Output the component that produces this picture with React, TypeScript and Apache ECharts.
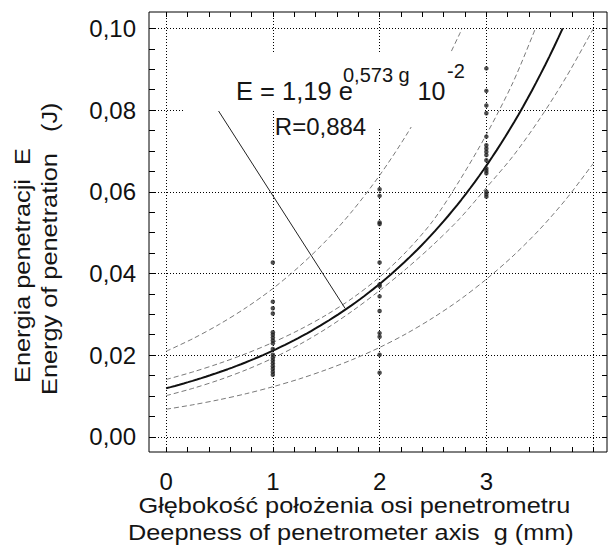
import React, { useEffect, useRef } from "react";
import * as echarts from "echarts";

const WIDTH = 608;
const HEIGHT = 549;
const FONT = '"Liberation Sans", Arial, Helvetica, sans-serif';

// Measured penetration energy E (J) at each penetrometer depth g (mm)
const DEPTHS = [1, 2, 3];
const ENERGY_AT_1MM = [0.0427, 0.0331, 0.0315, 0.0302, 0.0256, 0.025, 0.0243, 0.0236, 0.0229, 0.0215, 0.0201, 0.0194, 0.0187, 0.018, 0.0173, 0.0166, 0.0159, 0.0152];
const ENERGY_AT_2MM = [0.0606, 0.059, 0.0525, 0.0521, 0.0427, 0.0373, 0.0369, 0.0344, 0.0308, 0.0254, 0.0245, 0.0201, 0.0157];
const ENERGY_AT_3MM = [0.0902, 0.0847, 0.0811, 0.0792, 0.0735, 0.0714, 0.0706, 0.0698, 0.069, 0.0677, 0.0657, 0.0651, 0.0645, 0.06, 0.0594, 0.0588];

// Regression E = 1,19 e^(0,573 g) 10^-2, R = 0,884
const FIT_COEF = 1.19;
const FIT_RATE = 0.573;
const FIT_SCALE = 1e-2;
const FIT_R = 0.884;

// Confidence band (inner pair) and prediction band (outer pair)
const INNER_UPPER_G = [0, 0.25, 0.5, 0.75, 1, 1.25, 1.5, 1.75, 2, 2.25, 2.5, 2.75, 3, 3.25, 3.46];
const INNER_UPPER_E = [0.01404, 0.01589, 0.018, 0.02039, 0.02311, 0.02623, 0.02983, 0.03404, 0.03912, 0.04534, 0.0529, 0.0628, 0.074, 0.0868, 0.1];
const INNER_LOWER_G = [0, 0.25, 0.5, 0.75, 1, 1.25, 1.5, 1.75, 2, 2.25, 2.5, 2.75, 3, 3.25, 3.5, 3.75, 4];
const INNER_LOWER_E = [0.01009, 0.01187, 0.01396, 0.01641, 0.01927, 0.02262, 0.02649, 0.03091, 0.03582, 0.04116, 0.04698, 0.05342, 0.061, 0.06873, 0.07786, 0.08818, 0.09984];
const OUTER_UPPER_G = [0, 0.25, 0.5, 0.75, 1, 1.25, 1.5, 1.75, 2, 2.25, 2.5, 2.75, 2.77];
const OUTER_UPPER_E = [0.02094, 0.02403, 0.02758, 0.03164, 0.0363, 0.04177, 0.04806, 0.05547, 0.06401, 0.07387, 0.08524, 0.09866, 0.0999];
const OUTER_LOWER_G = [0, 0.25, 0.5, 0.75, 1, 1.25, 1.5, 1.75, 2, 2.25, 2.5, 2.75, 3, 3.25, 3.5, 3.75, 4];
const OUTER_LOWER_E = [0.00676, 0.00785, 0.00911, 0.01057, 0.01227, 0.0142, 0.01644, 0.01897, 0.02189, 0.02526, 0.02915, 0.03354, 0.0386, 0.04429, 0.05081, 0.0583, 0.0669];

// Leader from the equation down to the fitted curve
const LEADER_G = [0.486, 1.676];
const LEADER_E = [0.08, 0.0315];

// Axis ranges and ticks
const X_MIN = -0.16;
const X_MAX = 4.13;
const Y_MIN = -0.0037;
const Y_MAX = 0.104;
const X_TICK_FIRST = 0;
const X_TICK_LAST = 4;
const X_TICK_STEP = 1;
const Y_TICK_FIRST = 0;
const Y_TICK_LAST = 0.1;
const Y_TICK_STEP = 0.02;

// Plot frame in pixels
const FRAME = { left: 149, top: 12, width: 458, height: 440 };

const pairs = (xs: number[], ys: number[]) => xs.map((x, i) => [x, ys[i]]);

function buildOption() {
  const px = (g: number) => FRAME.left + ((g - X_MIN) / (X_MAX - X_MIN)) * FRAME.width;
  const py = (v: number) => FRAME.top + ((Y_MAX - v) / (Y_MAX - Y_MIN)) * FRAME.height;

  const fitA = FIT_COEF * FIT_SCALE;
  const fitEnd = Math.log(Y_TICK_LAST / fitA) / FIT_RATE;
  const fitData: number[][] = [];
  for (let i = 0; i <= 90; i++) {
    const g = (fitEnd * i) / 90;
    fitData.push([g, fitA * Math.exp(FIT_RATE * g)]);
  }

  const samples: number[][] = [];
  [ENERGY_AT_1MM, ENERGY_AT_2MM, ENERGY_AT_3MM].forEach((col, k) =>
    col.forEach((e) => samples.push([DEPTHS[k], e]))
  );

  const tickStyle = { color: "#000", width: 1 };
  const label = { fontFamily: FONT, fontSize: 24, color: "#111" };
  const noLine = { show: false, onZero: false };

  const band = (name: string, xs: number[], ys: number[]) => ({
    name,
    type: "line",
    xAxisIndex: 0,
    yAxisIndex: 0,
    data: pairs(xs, ys),
    smooth: 0.3,
    symbol: "none",
    silent: true,
    lineStyle: { color: "#7a7a7a", width: 1, type: [5, 3] },
    z: 3,
  });

  const text = (
    t: string,
    x: number,
    y: number,
    size: number,
    extra: Record<string, unknown> = {}
  ) => ({
    type: "text",
    x,
    y,
    z: 60,
    silent: true,
    ...extra,
    style: {
      text: t,
      fill: "#151515",
      fontFamily: FONT,
      fontSize: size,
      textAlign: "left",
      align: "left",
      textVerticalAlign: "middle",
      verticalAlign: "middle",
    },
  });

  const titleSize = 22.6;
  const titleScale = 1.12;

  return {
    animation: false,
    backgroundColor: "#fff",
    grid: [
      {
        left: FRAME.left,
        top: FRAME.top,
        width: FRAME.width,
        height: FRAME.height,
        show: true,
        borderColor: "#000",
        borderWidth: 1,
        backgroundColor: "transparent",
        containLabel: false,
        outerBoundsMode: "none",
      },
      {
        left: FRAME.left,
        top: py(Y_TICK_LAST),
        width: FRAME.width,
        height: py(Y_TICK_FIRST) - py(Y_TICK_LAST),
        containLabel: false,
        outerBoundsMode: "none",
      },
      {
        left: px(X_TICK_FIRST),
        top: FRAME.top,
        width: px(X_TICK_LAST) - px(X_TICK_FIRST),
        height: FRAME.height,
        containLabel: false,
        outerBoundsMode: "none",
      },
    ],
    xAxis: [
      { gridIndex: 0, type: "value", min: X_MIN, max: X_MAX, show: false, axisLine: noLine },
      { gridIndex: 1, type: "value", min: X_MIN, max: X_MAX, show: false, axisLine: noLine },
      {
        gridIndex: 2,
        type: "value",
        position: "bottom",
        min: X_TICK_FIRST,
        max: X_TICK_LAST,
        interval: X_TICK_STEP,
        axisLine: noLine,
        axisTick: { show: true, inside: true, length: 5, lineStyle: tickStyle },
        minorTick: { show: true, splitNumber: 5, length: 5, lineStyle: tickStyle },
        axisLabel: {
          ...label,
          margin: 17,
          showMaxLabel: false,
          formatter: (v: number) => (v === X_TICK_LAST ? "" : String(v)),
        },
        splitLine: { show: true, lineStyle: { color: "#000", width: 1, type: [1, 2] } },
      },
      {
        gridIndex: 2,
        type: "value",
        position: "top",
        min: X_TICK_FIRST,
        max: X_TICK_LAST,
        interval: X_TICK_STEP,
        axisLine: noLine,
        axisTick: { show: true, inside: true, length: 5, lineStyle: tickStyle },
        minorTick: { show: true, splitNumber: 5, length: 5, lineStyle: tickStyle },
        axisLabel: { show: false },
        splitLine: { show: false },
      },
    ],
    yAxis: [
      { gridIndex: 0, type: "value", min: Y_MIN, max: Y_MAX, show: false, axisLine: noLine },
      {
        gridIndex: 1,
        type: "value",
        position: "left",
        min: Y_TICK_FIRST,
        max: Y_TICK_LAST,
        interval: Y_TICK_STEP,
        axisLine: noLine,
        axisTick: { show: true, inside: true, length: 6, lineStyle: tickStyle },
        minorTick: { show: true, splitNumber: 4, length: 6, lineStyle: tickStyle },
        axisLabel: {
          ...label,
          margin: 13,
          formatter: (v: number) => v.toFixed(2).replace(".", ","),
        },
        splitLine: { show: true, lineStyle: { color: "#000", width: 1, type: [1, 2] } },
      },
      {
        gridIndex: 1,
        type: "value",
        position: "right",
        min: Y_TICK_FIRST,
        max: Y_TICK_LAST,
        interval: Y_TICK_STEP,
        axisLine: noLine,
        axisTick: { show: true, inside: true, length: 5, lineStyle: tickStyle },
        minorTick: { show: true, splitNumber: 4, length: 5, lineStyle: tickStyle },
        axisLabel: { show: false },
        splitLine: { show: false },
      },
      { gridIndex: 2, type: "value", min: Y_MIN, max: Y_MAX, show: false, axisLine: noLine },
    ],
    series: [
      band("prediction upper", OUTER_UPPER_G, OUTER_UPPER_E),
      band("confidence upper", INNER_UPPER_G, INNER_UPPER_E),
      band("confidence lower", INNER_LOWER_G, INNER_LOWER_E),
      band("prediction lower", OUTER_LOWER_G, OUTER_LOWER_E),
      {
        name: "fit",
        type: "line",
        xAxisIndex: 0,
        yAxisIndex: 0,
        data: fitData,
        symbol: "none",
        silent: true,
        lineStyle: { color: "#111", width: 2 },
        z: 4,
      },
      {
        name: "leader",
        type: "line",
        xAxisIndex: 0,
        yAxisIndex: 0,
        data: pairs(LEADER_G, LEADER_E),
        symbol: "none",
        silent: true,
        lineStyle: { color: "#222", width: 1 },
        z: 4,
      },
      {
        name: "samples",
        type: "scatter",
        xAxisIndex: 0,
        yAxisIndex: 0,
        data: samples,
        symbol: "circle",
        symbolSize: 4.5,
        silent: true,
        itemStyle: { color: "#222" },
        z: 5,
      },
    ],
    graphic: {
      elements: [
        { type: "rect", z: 50, silent: true, shape: { x: 183, y: 52, width: 301, height: 59 }, style: { fill: "#fff" } },
        { type: "rect", z: 50, silent: true, shape: { x: 276, y: 105, width: 208, height: 22 }, style: { fill: "#fff" } },
        text("E = 1,19 e", 236, 91.2, 25.5),
        text(`${FIT_RATE.toFixed(3).replace(".", ",")} g`, 343, 74.8, 20),
        text("10", 417.5, 91.3, 25),
        text(`${Math.round(Math.log10(FIT_SCALE))}`, 447, 71.4, 20),
        text(`R=${FIT_R.toFixed(3).replace(".", ",")}`, 274.8, 126.7, 24),
        text("Głębokość położenia osi penetrometru", 138.5, 504.9, titleSize, { scaleX: titleScale }),
        text("Deepness of penetrometer axis  g (mm)", 128, 532.2, titleSize, { scaleX: titleScale }),
        text("Energia penetracji  E", 22.2, 383, titleSize, { rotation: Math.PI / 2, scaleX: titleScale }),
        text("Energy of penetration   (J)", 48.9, 395, titleSize, { rotation: Math.PI / 2, scaleX: titleScale }),
      ],
    },
  };
}

export default function App() {
  const ref = useRef<HTMLDivElement>(null);

  useEffect(() => {
    document.body.style.margin = "0";
    const chart = echarts.init(ref.current as HTMLDivElement, null, {
      renderer: "svg",
      width: WIDTH,
      height: HEIGHT,
    });
    chart.setOption(buildOption() as any);
    return () => chart.dispose();
  }, []);

  return (
    <div
      ref={ref}
      style={{ width: WIDTH, height: HEIGHT, position: "absolute", left: 0, top: 0, background: "#fff" }}
    />
  );
}
